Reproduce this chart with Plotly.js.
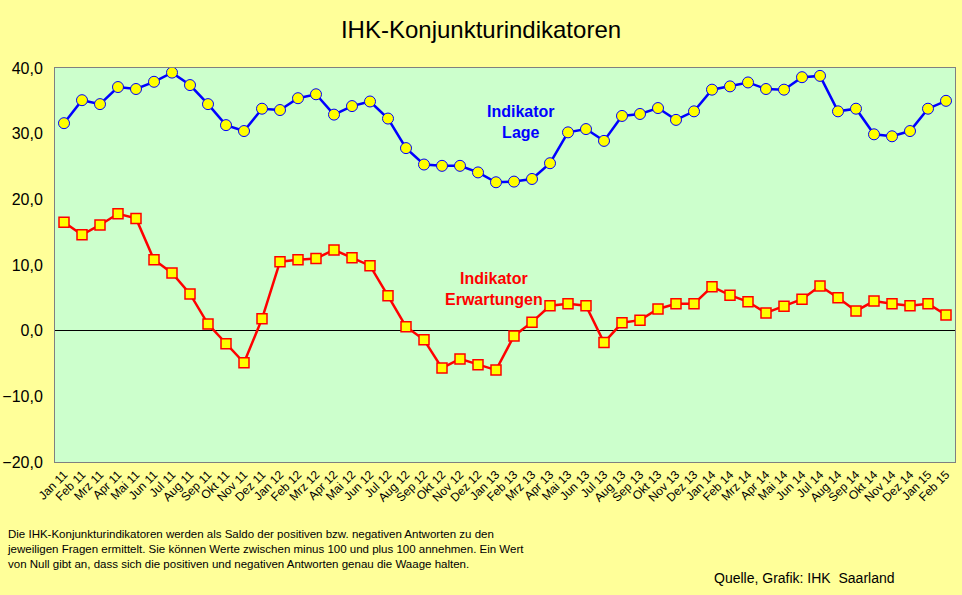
<!DOCTYPE html>
<html>
<head>
<meta charset="utf-8">
<script src="https://cdn.plot.ly/plotly-3.0.1.min.js"></script>
<style>
html,body{margin:0;padding:0;background:#FFFF99;}
#chart{width:962px;height:595px;outline:1px solid #000;outline-offset:-1px;}
</style>
</head>
<body>
<div id="chart"></div>
<script>
const months = ["Jan 11","Feb 11","Mrz 11","Apr 11","Mai 11","Jun 11","Jul 11","Aug 11","Sep 11","Okt 11","Nov 11","Dez 11",
"Jan 12","Feb 12","Mrz 12","Apr 12","Mai 12","Jun 12","Jul 12","Aug 12","Sep 12","Okt 12","Nov 12","Dez 12",
"Jan 13","Feb 13","Mrz 13","Apr 13","Mai 13","Jun 13","Jul 13","Aug 13","Sep 13","Okt 13","Nov 13","Dez 13",
"Jan 14","Feb 14","Mrz 14","Apr 14","Mai 14","Jun 14","Jul 14","Aug 14","Sep 14","Okt 14","Nov 14","Dez 14",
"Jan 15","Feb 15"];
const lage = [31.6,35.1,34.5,37.1,36.8,37.9,39.3,37.4,34.5,31.3,30.4,33.8,
33.6,35.4,36.0,32.9,34.2,34.9,32.3,27.8,25.3,25.1,25.1,24.1,
22.6,22.7,23.1,25.5,30.2,30.7,28.9,32.7,33.0,33.9,32.1,33.4,
36.7,37.2,37.8,36.8,36.7,38.6,38.8,33.4,33.8,29.9,29.6,30.4,
33.8,35.0];
const erwartungen = [16.5,14.6,16.1,17.8,17.1,10.8,8.8,5.6,1.0,-2.0,-4.9,1.8,
10.5,10.8,11.0,12.3,11.1,9.9,5.3,0.6,-1.4,-5.7,-4.3,-5.2,
-6.0,-0.8,1.3,3.8,4.1,3.8,-1.8,1.2,1.6,3.3,4.1,4.1,
6.7,5.4,4.4,2.7,3.7,4.8,6.8,5.0,3.0,4.5,4.1,3.8,
4.1,2.4];
const yTicks = [-20,-10,0,10,20,30,40];

const traces = [
  {x: months, y: lage, type:'scatter', mode:'lines+markers', name:'Indikator Lage',
   line:{color:'#0000FF', width:2.5},
   marker:{symbol:'circle', size:11, color:'#FFFF00', line:{color:'#0000FF', width:1}}},
  {x: months, y: erwartungen, type:'scatter', mode:'lines+markers', name:'Indikator Erwartungen',
   line:{color:'#FF0000', width:2.5},
   marker:{symbol:'square', size:10, color:'#FFFF00', line:{color:'#FF0000', width:1.5}}}
];

const layout = {
  width:962, height:595,
  paper_bgcolor:'#FFFF99', plot_bgcolor:'#CCFFCC',
  margin:{l:55, r:7, t:68, b:133},
  showlegend:false,
  separators:',.',
  font:{family:'Arial, Liberation Sans, sans-serif', color:'#000'},
  title:{text:'IHK-Konjunkturindikatoren', x:0.5, xanchor:'center', y:0.951, yanchor:'middle',
         font:{size:24, color:'#000'}},
  xaxis:{type:'category', range:[-0.5, months.length-0.5], autorange:false,
         tickangle:-45, tickfont:{size:12}, showgrid:false, zeroline:false,
         showline:true, linecolor:'#808080', linewidth:1, mirror:true, ticks:'', ticklen:0},
  yaxis:{range:[-20,40], autorange:false, tickvals:yTicks, tickformat:'.1f', tickfont:{size:16},
         ticklabelstandoff:8,
         showgrid:false, zeroline:true, zerolinecolor:'#000', zerolinewidth:1,
         showline:true, linecolor:'#808080', linewidth:1, mirror:true, ticks:'', ticklen:0},
  annotations:[
    {x:25.4, y:31.8, xref:'x', yref:'y', text:'<b>Indikator<br>Lage</b>', showarrow:false,
     font:{size:16, color:'#0000FF'}, align:'center'},
    {x:23.9, y:6.4, xref:'x', yref:'y', text:'<b>Indikator<br>Erwartungen</b>', showarrow:false,
     font:{size:16, color:'#FF0000'}, align:'center'},
    {x:-50/900, y:-0.162, xref:'paper', yref:'paper', xanchor:'left', yanchor:'top', align:'left',
     showarrow:false, font:{size:11.5, color:'#000'},
     text:'Die IHK-Konjunkturindikatoren werden als Saldo der positiven bzw. negativen Antworten zu den<br>jeweiligen Fragen ermittelt. Sie können Werte zwischen minus 100 und plus 100 annehmen. Ein Wert<br>von Null gibt an, dass sich die positiven und negativen Antworten genau die Waage halten.'},
    {x:0.833, y:-0.294, xref:'paper', yref:'paper', xanchor:'center', yanchor:'middle',
     showarrow:false, font:{size:14, color:'#000'}, text:'Quelle, Grafik: IHK  Saarland'}
  ]
};

Plotly.newPlot('chart', traces, layout, {displayModeBar:false, staticPlot:true});
</script>
</body>
</html>
